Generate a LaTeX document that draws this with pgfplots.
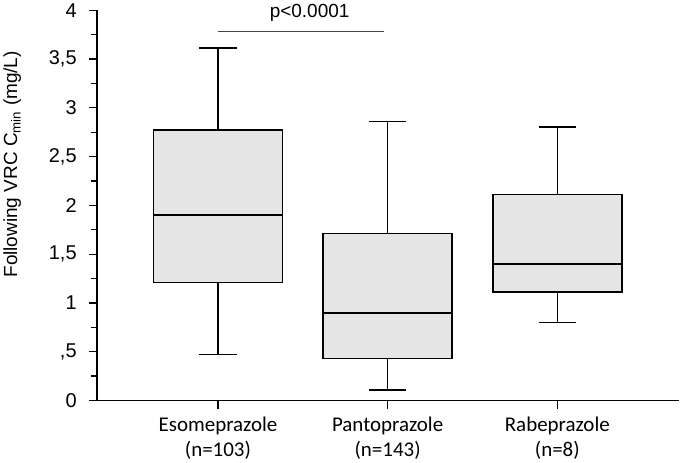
\documentclass[border=0pt]{standalone}
\usepackage{pgfplots}
\pgfplotsset{compat=1.18}
\usepgfplotslibrary{statistics}
\usepackage{fontspec}
\setmainfont{Liberation Sans}
\newfontfamily\calibri{Carlito}
\definecolor{boxgray}{HTML}{E5E5E5}
\definecolor{pline}{HTML}{444444}
\begin{document}
\begin{tikzpicture}
\begin{axis}[
    scale only axis,
    width=583pt, height=391pt,
    xmin=-0.712, xmax=2.718,
    ymin=0, ymax=4,
    axis lines=left,
    axis line style={-, line width=1.7pt},
    clip=false,
    xtick={0,1,2},
    xticklabels={Esomeprazole\\(n=103),Pantoprazole\\(n=143),Rabeprazole\\(n=8)},
    xticklabel style={align=center, font=\calibri\fontsize{21}{25}\selectfont, yshift=-5pt},
    ytick={0,0.5,...,4},
    yticklabels={0,{,5},1,{1,5},2,{2,5},3,{3,5},4},
    yticklabel style={font=\fontsize{20}{22}\selectfont, xshift=-9pt},
    minor y tick num=1,
    tick align=outside,
    major tick length=8pt,
    minor tick length=6pt,
    every tick/.style={black, line width=1.3pt},
    ylabel={Following VRC C\textsubscript{min} (mg/L)},
    every axis y label/.style={at={(axis description cs:-0.146,0.605)}, rotate=90, anchor=center, font=\fontsize{19}{22}\selectfont},
    boxplot/draw direction=y,
    boxplot/box extend=0.76,
    boxplot/whisker extend=0.22,
    boxplot/every box/.style={draw=black, fill=boxgray, line width=1.6pt},
    boxplot/every median/.style={draw=black, line width=1.6pt},
    boxplot/every whisker/.style={draw=black, line width=1.6pt},
]
\addplot[draw=black, line width=1.6pt,
  boxplot prepared={draw position=0, lower whisker=0.47, lower quartile=1.21,
    median=1.90, upper quartile=2.77, upper whisker=3.61}] coordinates {};
\addplot[draw=black, line width=1.6pt,
  boxplot prepared={draw position=1, lower whisker=0.11, lower quartile=0.43,
    median=0.90, upper quartile=1.71, upper whisker=2.86}] coordinates {};
\addplot[draw=black, line width=1.6pt,
  boxplot prepared={draw position=2, lower whisker=0.80, lower quartile=1.11,
    median=1.40, upper quartile=2.11, upper whisker=2.80}] coordinates {};
\draw[pline, line width=1pt] (axis cs:0,3.78) -- (axis cs:0.98,3.78);
\node[font=\fontsize{19}{22}\selectfont, anchor=center] at (axis cs:0.54,3.97) {p<0.0001};
\end{axis}
\end{tikzpicture}
\end{document}
